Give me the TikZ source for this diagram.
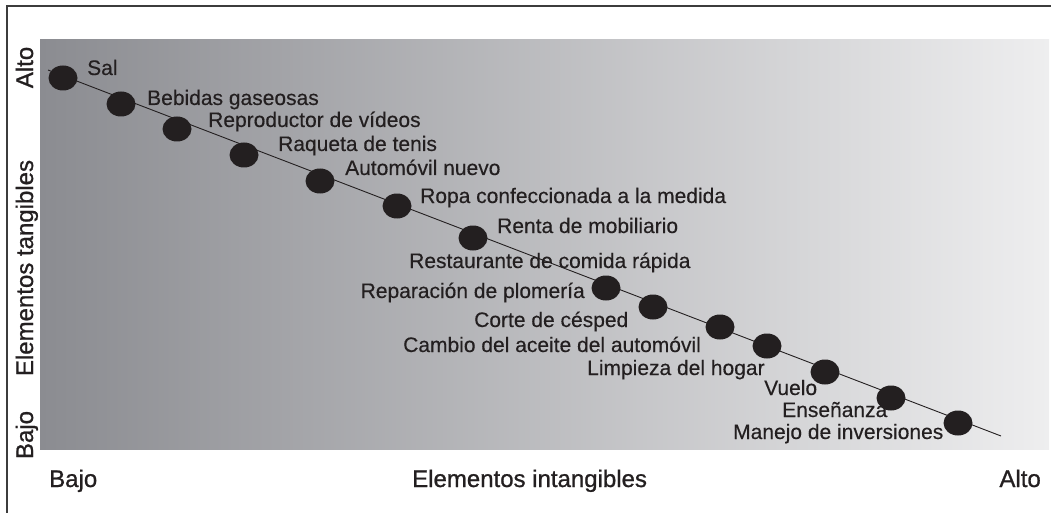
\documentclass[tikz,border=0pt]{standalone}
\usepackage{fontspec}
\setmainfont{Liberation Sans}
\newfontfamily\axisfont[FakeBold=0.9]{Liberation Sans}
\newfontfamily\lblfont[FakeBold=0.3]{Liberation Sans}
\usetikzlibrary{shapes.geometric}
\definecolor{ink}{RGB}{35,31,32}
\definecolor{panelL}{RGB}{139,140,145}
\definecolor{panelR}{RGB}{238,238,239}
\definecolor{frame}{RGB}{60,60,60}
\tikzset{
  dot/.style={ellipse, fill=ink, draw=none, minimum width=29pt, minimum height=25pt, inner sep=0pt},
  lbl/.style={inner sep=0pt, text=ink, font=\lblfont\fontsize{21}{25}\selectfont},
  axis/.style={inner sep=0pt, text=ink, font=\axisfont\fontsize{24}{28}\selectfont},
}
\begin{document}
\begin{tikzpicture}[x=1pt,y=-1pt]
\useasboundingbox (0,0) rectangle (1051,513);
% frame (top and left visible)
\draw[frame, line width=1.4pt] (7,513) -- (7,6) -- (1051,6);
% gradient panel
\shade[left color=panelL, right color=panelR] (40,40) rectangle (1049,449);
% trend line
\coordinate (start) at (48,70);
\coordinate (end) at (1001,436);
\draw[ink, line width=0.9pt] (start) -- (end);
% dots
\node[dot] (d1) at (63,78) {};
\node[dot] (d2) at (121,104) {};
\node[dot] (d3) at (177,129) {};
\node[dot] (d4) at (244,155) {};
\node[dot] (d5) at (320,181) {};
\node[dot] (d6) at (397,206) {};
\node[dot] (d7) at (473,238) {};
\node[dot] (d8) at (606,288) {};
\node[dot] (d9) at (653,307) {};
\node[dot] (d10) at (720,327) {};
\node[dot] (d11) at (767,346) {};
\node[dot] (d12) at (825,372) {};
\node[dot] (d13) at (891,398) {};
\node[dot] (d14) at (958,423) {};
% labels
\node[lbl, anchor=base west] (l1) at (87,75) {Sal};
\node[lbl, anchor=base west] (l2) at (147,105) {Bebidas gaseosas};
\node[lbl, anchor=base west] (l3) at (208,127) {Reproductor de vídeos};
\node[lbl, anchor=base west] (l4) at (278,151) {Raqueta de tenis};
\node[lbl, anchor=base west] (l5) at (345,175) {Automóvil nuevo};
\node[lbl, anchor=base west] (l6) at (420,203) {Ropa confeccionada a la medida};
\node[lbl, anchor=base west] (l7) at (497,233) {Renta de mobiliario};
\node[lbl, anchor=base west] (l8) at (409,268) {Restaurante de comida rápida};
\node[lbl, anchor=base east] (l9) at (585,298) {Reparación de plomería};
\node[lbl, anchor=base west] (l10) at (474,327) {Corte de césped};
\node[lbl, anchor=base west] (l11) at (403,352) {Cambio del aceite del automóvil};
\node[lbl, anchor=base west] (l12) at (587,375) {Limpieza del hogar};
\node[lbl, anchor=base west] (l13) at (764,395) {Vuelo};
\node[lbl, anchor=base west] (l14) at (782,417) {Enseñanza};
\node[lbl, anchor=base west] (l15) at (733,439) {Manejo de inversiones};
% axis labels
\node[axis, anchor=base, rotate=90] (yhi) at (33,67.5) {Alto};
\node[axis, anchor=base, rotate=90] (ytitle) at (33,268) {Elementos tangibles};
\node[axis, anchor=base, rotate=90] (ylo) at (33,435) {Bajo};
\node[axis, anchor=base west] (xlo) at (49,487) {Bajo};
\node[axis, anchor=base west] (xtitle) at (412,487) {Elementos intangibles};
\node[axis, anchor=base east] (xhi) at (1041,487) {Alto};
\end{tikzpicture}
\end{document}
